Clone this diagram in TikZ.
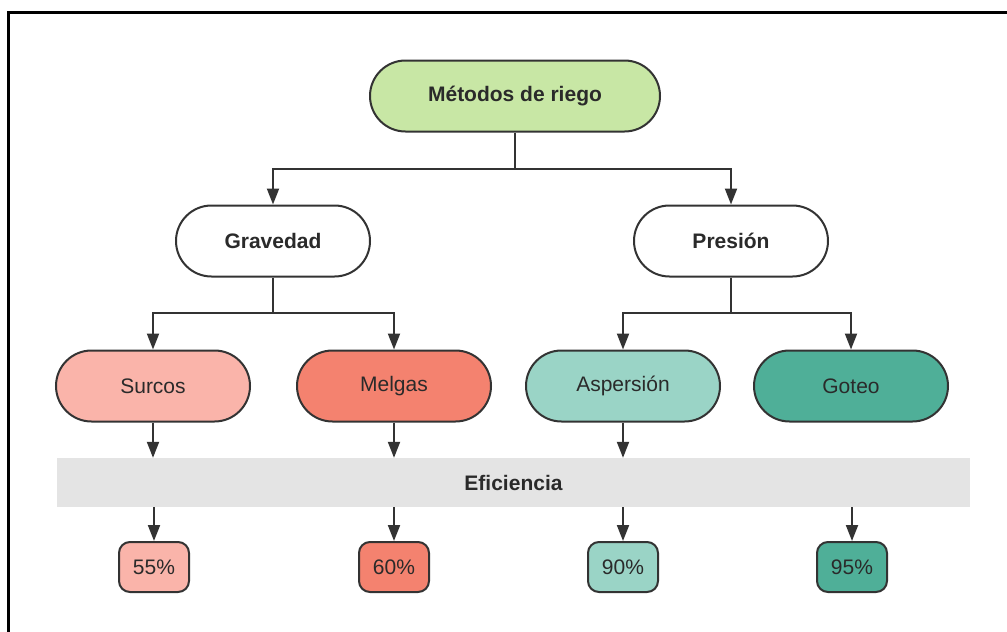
\documentclass[tikz,border=0pt]{standalone}
\usepackage{fontspec}
\setmainfont{Liberation Sans}
\usetikzlibrary{arrows.meta}
\definecolor{rootc}{HTML}{C8E7A5}
\definecolor{surc}{HTML}{FAB4AA}
\definecolor{melc}{HTML}{F4826F}
\definecolor{aspc}{HTML}{9AD4C6}
\definecolor{gotc}{HTML}{4FAF98}
\definecolor{bandc}{HTML}{E4E4E4}
\definecolor{edge}{HTML}{333333}
\definecolor{txt}{HTML}{2A2A2A}
\tikzset{
  pill/.style={draw=edge, line width=2pt, rounded corners=35.5pt, minimum width=194pt, minimum height=71pt, inner sep=0pt, font=\fontsize{21}{25}\selectfont, text=txt},
  boldpill/.style={pill, font=\fontsize{21}{25}\selectfont\bfseries},
  pct/.style={draw=edge, line width=2pt, rounded corners=11pt, minimum width=70pt, minimum height=50pt, inner sep=0pt, font=\fontsize{21}{25}\selectfont, text=txt},
  arr/.style={draw=edge, line width=2pt, -{Triangle[width=12pt,length=16pt]}},
  conn/.style={draw=edge, line width=2pt}
}
\begin{document}
\begin{tikzpicture}[x=1pt,y=-1pt]
\useasboundingbox (0,0) rectangle (1007,632);
\fill[white] (0,0) rectangle (1007,632);
% frame
\draw[line width=2.8pt, black] (8.5,632) -- (8.5,12.5) -- (1007,12.5);
% nodes
\node[boldpill, fill=rootc, minimum width=290pt] (root) at (515,96) {Métodos de riego};
\node[boldpill, fill=white] (grav) at (273,241) {Gravedad};
\node[boldpill, fill=white] (pres) at (731,241) {Presión};
\node[pill, fill=surc] (sur) at (153,386) {Surcos};
\node[pill, fill=melc] (mel) at (394,386) {Melgas};
\node[pill, fill=aspc] (asp) at (623,386) {Aspersión};
\node[pill, fill=gotc] (got) at (851,386) {Goteo};
\node[fill=bandc, minimum width=913pt, minimum height=49pt, inner sep=0pt, font=\fontsize{21}{25}\selectfont\bfseries, text=txt] (band) at (513.5,482.5) {Eficiencia};
\node[pct, fill=surc] (p1) at (154,567) {55\%};
\node[pct, fill=melc] (p2) at (394,567) {60\%};
\node[pct, fill=aspc] (p3) at (623,567) {90\%};
\node[pct, fill=gotc] (p4) at (852,567) {95\%};
% bars
\coordinate (bar1) at (0,169);
\coordinate (bar2) at (0,313);
% connectors
\draw[conn] (root.south) -- (root.south |- bar1);
\draw[arr] (root.south |- bar1) -| (grav.north);
\draw[arr] (root.south |- bar1) -| (pres.north);
\draw[conn] (grav.south) -- (grav.south |- bar2);
\draw[arr] (grav.south |- bar2) -| (sur.north);
\draw[arr] (grav.south |- bar2) -| (mel.north);
\draw[conn] (pres.south) -- (pres.south |- bar2);
\draw[arr] (pres.south |- bar2) -| (asp.north);
\draw[arr] (pres.south |- bar2) -| (got.north);
\foreach \n in {sur,mel,asp}{
  \draw[arr] (\n.south) -- (\n.south |- band.north);
}
\foreach \p in {p1,p2,p3,p4}{
  \draw[arr] (\p.north |- band.south) -- (\p.north);
}
\end{tikzpicture}
\end{document}
